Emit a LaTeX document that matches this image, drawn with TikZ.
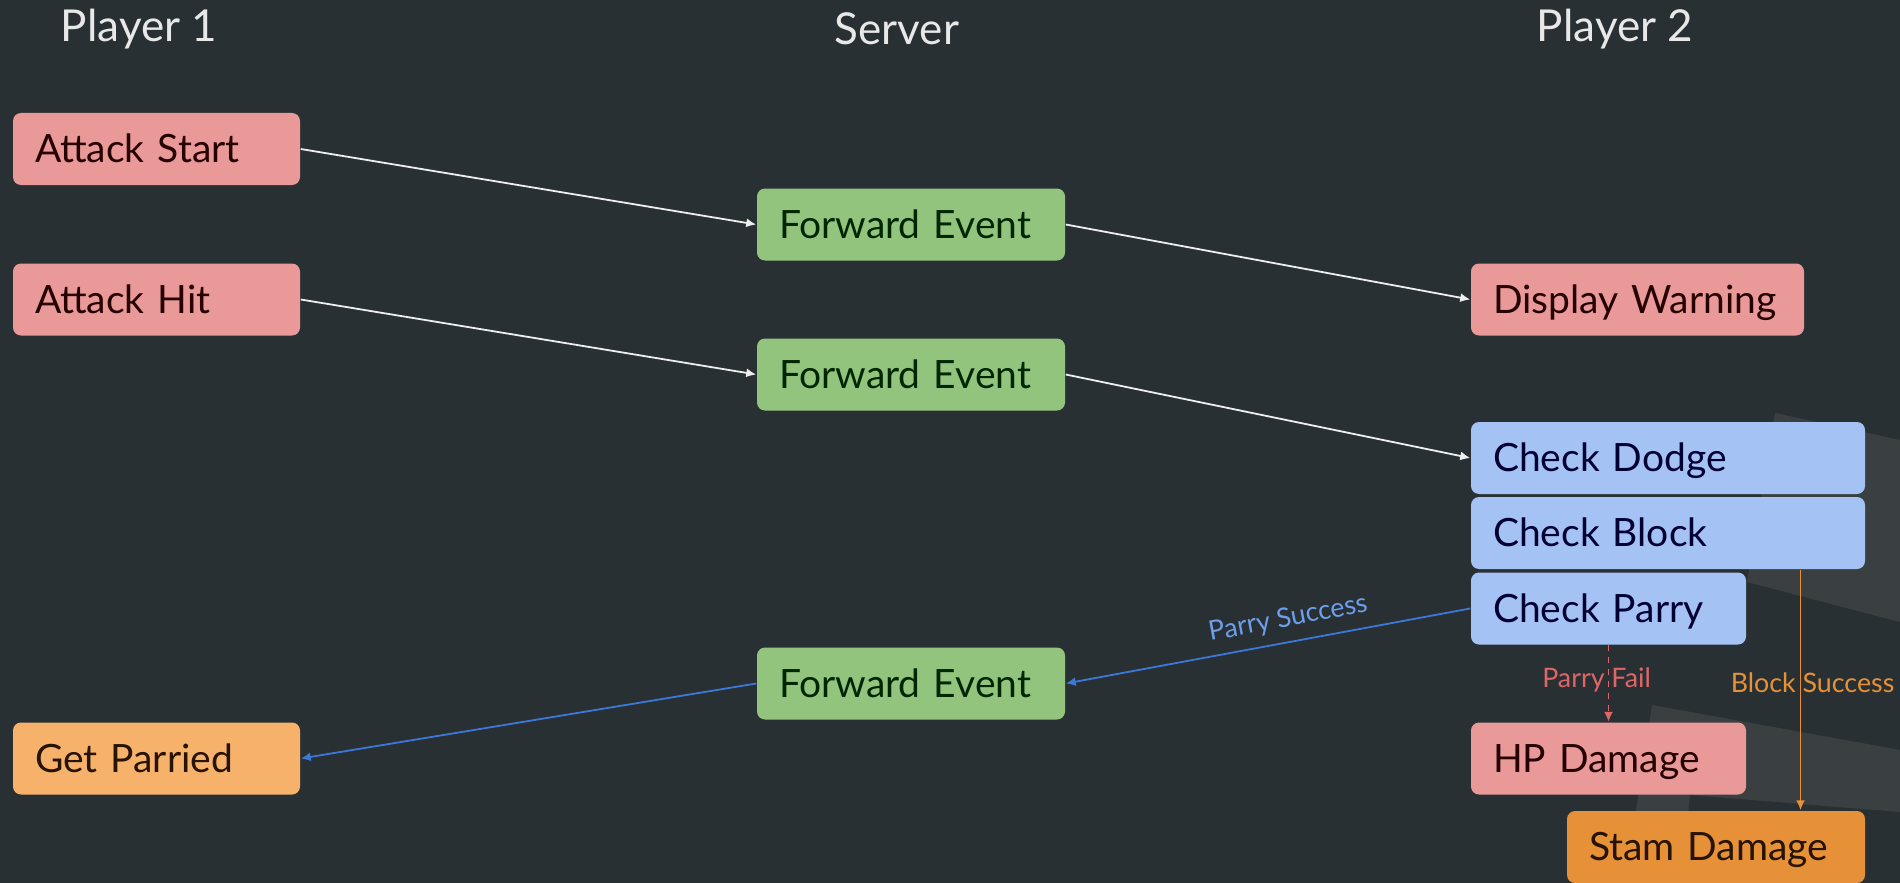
\documentclass[tikz,border=0pt]{standalone}
\usepackage{fontspec}
\setmainfont{Lato}
\usetikzlibrary{arrows.meta}

\definecolor{bgdark}{HTML}{293033}
\definecolor{bgmark}{HTML}{3A3F42}
\definecolor{boxred}{HTML}{EA9999}
\definecolor{boxgreen}{HTML}{93C47D}
\definecolor{boxblue}{HTML}{A4C2F4}
\definecolor{boxorange}{HTML}{F6B26B}
\definecolor{boxdkorange}{HTML}{E69138}
\definecolor{linewhite}{HTML}{EEEEEE}
\definecolor{lineblue}{HTML}{3C78D8}
\definecolor{textblue}{HTML}{6D9EEB}
\definecolor{linered}{HTML}{E06666}
\definecolor{titlegray}{HTML}{E8E8E8}

\tikzset{every picture/.style={line width=0.75pt}}

\begin{document}
\begin{tikzpicture}[x=0.5pt,y=0.5pt,yscale=-1,xscale=1,
  >={Latex[length=5pt,width=4.5pt]},
  box/.style={rounded corners=4pt, inner xsep=11pt, inner ysep=0pt,
    minimum height=36pt, text height=16pt, text depth=2.5pt, align=left,
    font=\fontsize{19.5}{22}\selectfont},
  title/.style={text=titlegray, font=\fontsize{22}{26}\selectfont},
  flow/.style={->, draw=linewhite, line width=0.9pt},
  tag/.style={font=\fontsize{13.4}{15}\selectfont, inner sep=1pt}]

%Background
\fill [bgdark] (0,0) rectangle (1900,883);
\useasboundingbox (0,0) rectangle (1900,883);
%Watermark
\fill [bgmark] (1775,413) -- (1900,440) -- (1900,622) -- (1747,582) -- cycle;
\fill [bgmark] (1652,705) -- (1900,750) -- (1900,812) -- (1690,795) -- (1680,883) -- (1625,883) -- cycle;

% Text Node
\node [title] (p1) at (139,29) {Player 1};
% Text Node
\node [title] (srv) at (897,29) {Server};
% Text Node
\node [title] (p2) at (1615,29) {Player 2};

% Player 1
\node [box, fill=boxred, text width=121.5pt, text=black!85!red] (atkstart) at (156.5,149) {Attack Start};
\node [box, fill=boxred, text width=121.5pt, text=black!85!red] (atkhit) at (156.5,299.5) {Attack Hit};
\node [box, fill=boxorange, text width=121.5pt, text=black!85!orange] (parried) at (156.5,758.5) {Get Parried};

% Server
\node [box, fill=boxgreen, text width=132pt, text=black!85!green] (fwdone) at (911,224.5) {Forward Event};
\node [box, fill=boxgreen, text width=132pt, text=black!85!green] (fwdtwo) at (911,374.5) {Forward Event};
\node [box, fill=boxgreen, text width=132pt, text=black!85!green] (fwdthree) at (911,683.5) {Forward Event};

% Player 2
\node [box, fill=boxred, text width=144.5pt, text=black!85!red] (warn) at (1637.5,299.5) {Display Warning};
\node [box, fill=boxblue, text width=175pt, text=black!80!blue] (dodge) at (1668,458) {Check Dodge};
\node [box, fill=boxblue, text width=175pt, text=black!80!blue] (block) at (1668,533) {Check Block};
\node [box, fill=boxblue, text width=115.5pt, text=black!80!blue] (parry) at (1608.5,608.5) {Check Parry};
\node [box, fill=boxred, text width=115.5pt, text=black!85!red] (hpdmg) at (1608.5,758.5) {HP Damage};
\node [box, fill=boxdkorange, text width=127pt, text=black!85!orange] (stamdmg) at (1716,847) {Stam Damage};

\coordinate (blockx) at (1800.5,0);

%Straight Lines
\draw [flow] (atkstart.east) -- (fwdone.west);
\draw [flow] (fwdone.east) -- (warn.west);
\draw [flow] (atkhit.east) -- (fwdtwo.west);
\draw [flow] (fwdtwo.east) -- (dodge.west);
%Straight Lines
\draw [->, draw=lineblue, line width=0.9pt] (parry.west) -- (fwdthree.east)
  node [tag, pos=0.44, anchor=south, rotate=10.5, inner sep=5pt, text=textblue] {Parry Success};
\draw [->, draw=lineblue, line width=0.9pt] (fwdthree.west) -- (parried.east);
%Straight Lines
\draw [->, draw=linered, dashed, line width=0.9pt] (parry.south) -- (hpdmg.north)
  node [tag, pos=0.45, xshift=-6pt, text=linered] {Parry Fail};
\draw [->, draw=boxdkorange, line width=0.9pt] (block.south -| blockx) -- (stamdmg.north -| blockx)
  node [tag, pos=0.47, xshift=6pt, text=boxdkorange] {Block Success};

\end{tikzpicture}
\end{document}
